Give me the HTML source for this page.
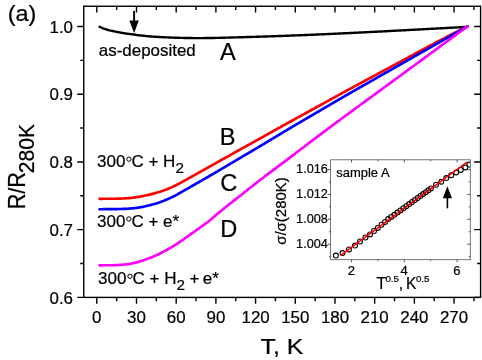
<!DOCTYPE html>
<html><head><meta charset="utf-8"><title>chart</title>
<style>html,body{margin:0;padding:0;background:#fff;}body{width:482px;height:360px;overflow:hidden;font-family:"Liberation Sans",sans-serif;}svg{display:block;will-change:transform;}text{stroke:#000;stroke-width:0.22px;}</style>
</head><body>
<svg width="482" height="360" viewBox="0 0 482 360" font-family="'Liberation Sans', sans-serif" fill="#000">
<rect width="482" height="360" fill="#fff"/>
<path d="M99.60,26.80 L100.60,27.28 L101.60,27.73 L102.60,28.15 L103.60,28.54 L104.60,28.88 L105.60,29.21 L106.60,29.51 L107.60,29.80 L108.60,30.07 L109.60,30.33 L110.60,30.57 L111.60,30.80 L112.60,31.01 L113.60,31.23 L114.60,31.43 L115.60,31.62 L116.60,31.82 L117.60,32.02 L118.60,32.23 L119.60,32.43 L120.60,32.62 L121.60,32.80 L122.60,32.97 L123.60,33.13 L124.60,33.29 L125.60,33.45 L126.60,33.59 L127.60,33.74 L128.60,33.88 L129.60,34.02 L130.60,34.15 L131.60,34.28 L132.60,34.42 L133.60,34.55 L134.60,34.68 L135.60,34.81 L136.60,34.94 L137.60,35.07 L138.60,35.20 L139.60,35.32 L140.60,35.44 L141.60,35.56 L142.60,35.67 L143.60,35.78 L144.60,35.89 L145.60,35.99 L146.60,36.10 L147.60,36.19 L148.60,36.28 L149.60,36.37 L150.60,36.45 L151.60,36.52 L152.60,36.59 L153.60,36.66 L154.60,36.73 L155.60,36.79 L156.60,36.86 L157.60,36.92 L158.60,36.97 L159.60,37.03 L160.60,37.09 L161.60,37.14 L162.60,37.19 L163.60,37.24 L164.60,37.28 L165.60,37.33 L166.60,37.37 L167.60,37.41 L168.60,37.46 L169.60,37.50 L170.60,37.54 L171.60,37.58 L172.60,37.62 L173.60,37.66 L174.60,37.70 L175.60,37.73 L176.60,37.76 L177.60,37.79 L178.60,37.82 L179.60,37.85 L180.60,37.87 L181.60,37.89 L182.60,37.91 L183.60,37.93 L184.60,37.95 L185.60,37.97 L186.60,37.98 L187.60,38.00 L188.60,38.02 L189.60,38.03 L190.60,38.05 L191.60,38.06 L192.60,38.07 L193.60,38.08 L194.60,38.09 L195.60,38.09 L196.60,38.10 L197.60,38.10 L198.60,38.10 L199.60,38.10 L200.60,38.09 L201.60,38.09 L202.60,38.08 L203.60,38.08 L204.60,38.07 L205.60,38.06 L206.60,38.05 L207.60,38.03 L208.60,38.02 L209.60,38.01 L210.60,38.00 L211.60,37.98 L212.60,37.97 L213.60,37.96 L214.60,37.94 L215.60,37.92 L216.60,37.91 L217.60,37.89 L218.60,37.86 L219.60,37.84 L220.60,37.81 L221.60,37.79 L222.60,37.76 L223.60,37.73 L224.60,37.70 L225.60,37.67 L226.60,37.64 L227.60,37.61 L228.60,37.58 L229.60,37.55 L230.60,37.52 L231.60,37.50 L232.60,37.47 L233.60,37.44 L234.60,37.41 L235.60,37.39 L236.60,37.36 L237.60,37.33 L238.60,37.30 L239.60,37.27 L240.60,37.24 L241.60,37.21 L242.60,37.19 L243.60,37.16 L244.60,37.13 L245.60,37.10 L246.60,37.07 L247.60,37.04 L248.60,37.01 L249.60,36.98 L250.60,36.95 L251.60,36.92 L252.60,36.89 L253.60,36.86 L254.60,36.83 L255.60,36.80 L256.60,36.77 L257.60,36.74 L258.60,36.71 L259.60,36.68 L260.60,36.65 L261.60,36.62 L262.60,36.58 L263.60,36.55 L264.60,36.52 L265.60,36.49 L266.60,36.46 L267.60,36.43 L268.60,36.39 L269.60,36.36 L270.60,36.33 L271.60,36.30 L272.60,36.26 L273.60,36.23 L274.60,36.20 L275.60,36.16 L276.60,36.13 L277.60,36.09 L278.60,36.06 L279.60,36.02 L280.60,35.98 L281.60,35.95 L282.60,35.91 L283.60,35.88 L284.60,35.84 L285.60,35.80 L286.60,35.76 L287.60,35.73 L288.60,35.69 L289.60,35.65 L290.60,35.61 L291.60,35.57 L292.60,35.53 L293.60,35.50 L294.60,35.46 L295.60,35.42 L296.60,35.38 L297.60,35.34 L298.60,35.30 L299.60,35.26 L300.60,35.22 L301.60,35.18 L302.60,35.14 L303.60,35.10 L304.60,35.05 L305.60,35.01 L306.60,34.97 L307.60,34.93 L308.60,34.89 L309.60,34.85 L310.60,34.80 L311.60,34.76 L312.60,34.72 L313.60,34.68 L314.60,34.63 L315.60,34.59 L316.60,34.55 L317.60,34.50 L318.60,34.46 L319.60,34.42 L320.60,34.37 L321.60,34.33 L322.60,34.29 L323.60,34.24 L324.60,34.20 L325.60,34.15 L326.60,34.11 L327.60,34.06 L328.60,34.02 L329.60,33.97 L330.60,33.93 L331.60,33.88 L332.60,33.84 L333.60,33.79 L334.60,33.74 L335.60,33.70 L336.60,33.65 L337.60,33.60 L338.60,33.56 L339.60,33.51 L340.60,33.46 L341.60,33.42 L342.60,33.37 L343.60,33.32 L344.60,33.27 L345.60,33.23 L346.60,33.18 L347.60,33.13 L348.60,33.08 L349.60,33.04 L350.60,32.99 L351.60,32.94 L352.60,32.89 L353.60,32.84 L354.60,32.79 L355.60,32.74 L356.60,32.70 L357.60,32.65 L358.60,32.60 L359.60,32.55 L360.60,32.50 L361.60,32.45 L362.60,32.40 L363.60,32.35 L364.60,32.30 L365.60,32.25 L366.60,32.20 L367.60,32.16 L368.60,32.11 L369.60,32.06 L370.60,32.01 L371.60,31.95 L372.60,31.90 L373.60,31.85 L374.60,31.80 L375.60,31.75 L376.60,31.70 L377.60,31.65 L378.60,31.60 L379.60,31.54 L380.60,31.49 L381.60,31.44 L382.60,31.39 L383.60,31.33 L384.60,31.28 L385.60,31.23 L386.60,31.18 L387.60,31.13 L388.60,31.07 L389.60,31.02 L390.60,30.97 L391.60,30.92 L392.60,30.86 L393.60,30.81 L394.60,30.76 L395.60,30.71 L396.60,30.65 L397.60,30.60 L398.60,30.55 L399.60,30.50 L400.60,30.44 L401.60,30.39 L402.60,30.34 L403.60,30.29 L404.60,30.23 L405.60,30.18 L406.60,30.13 L407.60,30.07 L408.60,30.02 L409.60,29.97 L410.60,29.92 L411.60,29.86 L412.60,29.81 L413.60,29.76 L414.60,29.70 L415.60,29.65 L416.60,29.60 L417.60,29.54 L418.60,29.49 L419.60,29.44 L420.60,29.38 L421.60,29.33 L422.60,29.28 L423.60,29.22 L424.60,29.17 L425.60,29.12 L426.60,29.06 L427.60,29.01 L428.60,28.95 L429.60,28.90 L430.60,28.85 L431.60,28.79 L432.60,28.74 L433.60,28.69 L434.60,28.63 L435.60,28.58 L436.60,28.52 L437.60,28.47 L438.60,28.42 L439.60,28.36 L440.60,28.31 L441.60,28.25 L442.60,28.20 L443.60,28.15 L444.60,28.09 L445.60,28.04 L446.60,27.98 L447.60,27.93 L448.60,27.88 L449.60,27.82 L450.60,27.77 L451.60,27.71 L452.60,27.66 L453.60,27.60 L454.60,27.55 L455.60,27.49 L456.60,27.44 L457.60,27.38 L458.60,27.33 L459.60,27.27 L460.60,27.22 L461.60,27.16 L462.60,27.11 L463.60,27.05 L464.60,27.00 L465.60,26.94 L466.60,26.89 L467.30,26.85" fill="none" stroke="#000" stroke-width="2.4" stroke-linecap="round" stroke-linejoin="round"/>
<path d="M99.50,198.80 L100.50,198.80 L101.50,198.80 L102.50,198.80 L103.50,198.79 L104.50,198.79 L105.50,198.79 L106.50,198.78 L107.50,198.78 L108.50,198.77 L109.50,198.77 L110.50,198.76 L111.50,198.75 L112.50,198.75 L113.50,198.74 L114.50,198.72 L115.50,198.70 L116.50,198.69 L117.50,198.66 L118.50,198.64 L119.50,198.61 L120.50,198.59 L121.50,198.55 L122.50,198.51 L123.50,198.47 L124.50,198.42 L125.50,198.36 L126.50,198.30 L127.50,198.23 L128.50,198.16 L129.50,198.08 L130.50,197.98 L131.50,197.87 L132.50,197.74 L133.50,197.61 L134.50,197.47 L135.50,197.33 L136.50,197.18 L137.50,197.03 L138.50,196.88 L139.50,196.71 L140.50,196.53 L141.50,196.35 L142.50,196.16 L143.50,195.96 L144.50,195.75 L145.50,195.54 L146.50,195.32 L147.50,195.10 L148.50,194.87 L149.50,194.64 L150.50,194.40 L151.50,194.15 L152.50,193.90 L153.50,193.64 L154.50,193.37 L155.50,193.09 L156.50,192.80 L157.50,192.51 L158.50,192.21 L159.50,191.90 L160.50,191.58 L161.50,191.26 L162.50,190.92 L163.50,190.58 L164.50,190.22 L165.50,189.86 L166.50,189.48 L167.50,189.10 L168.50,188.70 L169.50,188.28 L170.50,187.84 L171.50,187.38 L172.50,186.91 L173.50,186.43 L174.50,185.94 L175.50,185.45 L176.50,184.95 L177.50,184.43 L178.50,183.90 L179.50,183.37 L180.50,182.83 L181.50,182.30 L182.50,181.76 L183.50,181.22 L184.50,180.67 L185.50,180.12 L186.50,179.57 L187.50,179.01 L188.50,178.44 L189.50,177.88 L190.50,177.32 L191.50,176.76 L192.50,176.20 L193.50,175.64 L194.50,175.08 L195.50,174.52 L196.50,173.96 L197.50,173.40 L198.50,172.84 L199.50,172.28 L200.50,171.72 L201.50,171.16 L202.50,170.60 L203.50,170.04 L204.50,169.48 L205.50,168.92 L206.50,168.36 L207.50,167.80 L208.50,167.24 L209.50,166.68 L210.50,166.12 L211.50,165.56 L212.50,165.00 L213.50,164.44 L214.50,163.88 L215.50,163.32 L216.50,162.76 L217.50,162.20 L218.50,161.64 L219.50,161.08 L220.50,160.52 L221.50,159.96 L222.50,159.40 L223.50,158.84 L224.50,158.28 L225.50,157.72 L226.50,157.16 L227.50,156.60 L228.50,156.04 L229.50,155.48 L230.50,154.92 L231.50,154.36 L232.50,153.80 L233.50,153.24 L234.50,152.68 L235.50,152.12 L236.50,151.56 L237.50,151.00 L238.50,150.44 L239.50,149.88 L240.50,149.32 L241.50,148.76 L242.50,148.21 L243.50,147.65 L244.50,147.10 L245.50,146.54 L246.50,145.99 L247.50,145.43 L248.50,144.88 L249.50,144.33 L250.50,143.77 L251.50,143.22 L252.50,142.67 L253.50,142.11 L254.50,141.56 L255.50,141.00 L256.50,140.45 L257.50,139.89 L258.50,139.34 L259.50,138.78 L260.50,138.22 L261.50,137.66 L262.50,137.10 L263.50,136.54 L264.50,135.98 L265.50,135.42 L266.50,134.86 L267.50,134.30 L268.50,133.74 L269.50,133.18 L270.50,132.62 L271.50,132.06 L272.50,131.51 L273.50,130.95 L274.50,130.39 L275.50,129.84 L276.50,129.28 L277.50,128.73 L278.50,128.17 L279.50,127.61 L280.50,127.06 L281.50,126.51 L282.50,125.95 L283.50,125.40 L284.50,124.84 L285.50,124.29 L286.50,123.74 L287.50,123.18 L288.50,122.63 L289.50,122.08 L290.50,121.52 L291.50,120.97 L292.50,120.42 L293.50,119.87 L294.50,119.32 L295.50,118.77 L296.50,118.21 L297.50,117.66 L298.50,117.11 L299.50,116.56 L300.50,116.01 L301.50,115.46 L302.50,114.91 L303.50,114.36 L304.50,113.81 L305.50,113.27 L306.50,112.72 L307.50,112.17 L308.50,111.62 L309.50,111.07 L310.50,110.52 L311.50,109.97 L312.50,109.42 L313.50,108.87 L314.50,108.32 L315.50,107.77 L316.50,107.22 L317.50,106.67 L318.50,106.12 L319.50,105.57 L320.50,105.02 L321.50,104.47 L322.50,103.92 L323.50,103.37 L324.50,102.82 L325.50,102.27 L326.50,101.72 L327.50,101.17 L328.50,100.62 L329.50,100.07 L330.50,99.51 L331.50,98.96 L332.50,98.41 L333.50,97.86 L334.50,97.31 L335.50,96.76 L336.50,96.21 L337.50,95.67 L338.50,95.12 L339.50,94.57 L340.50,94.03 L341.50,93.48 L342.50,92.94 L343.50,92.39 L344.50,91.85 L345.50,91.30 L346.50,90.76 L347.50,90.22 L348.50,89.67 L349.50,89.13 L350.50,88.59 L351.50,88.04 L352.50,87.50 L353.50,86.96 L354.50,86.42 L355.50,85.88 L356.50,85.34 L357.50,84.79 L358.50,84.25 L359.50,83.71 L360.50,83.17 L361.50,82.63 L362.50,82.09 L363.50,81.55 L364.50,81.01 L365.50,80.47 L366.50,79.93 L367.50,79.39 L368.50,78.86 L369.50,78.32 L370.50,77.78 L371.50,77.24 L372.50,76.70 L373.50,76.16 L374.50,75.62 L375.50,75.08 L376.50,74.55 L377.50,74.01 L378.50,73.47 L379.50,72.93 L380.50,72.39 L381.50,71.86 L382.50,71.32 L383.50,70.78 L384.50,70.24 L385.50,69.70 L386.50,69.17 L387.50,68.63 L388.50,68.09 L389.50,67.55 L390.50,67.01 L391.50,66.48 L392.50,65.94 L393.50,65.40 L394.50,64.86 L395.50,64.32 L396.50,63.78 L397.50,63.25 L398.50,62.71 L399.50,62.17 L400.50,61.63 L401.50,61.09 L402.50,60.55 L403.50,60.01 L404.50,59.47 L405.50,58.93 L406.50,58.39 L407.50,57.85 L408.50,57.30 L409.50,56.76 L410.50,56.22 L411.50,55.68 L412.50,55.14 L413.50,54.59 L414.50,54.05 L415.50,53.51 L416.50,52.97 L417.50,52.43 L418.50,51.88 L419.50,51.34 L420.50,50.80 L421.50,50.26 L422.50,49.72 L423.50,49.18 L424.50,48.64 L425.50,48.10 L426.50,47.57 L427.50,47.03 L428.50,46.49 L429.50,45.96 L430.50,45.42 L431.50,44.89 L432.50,44.36 L433.50,43.83 L434.50,43.30 L435.50,42.77 L436.50,42.24 L437.50,41.71 L438.50,41.19 L439.50,40.66 L440.50,40.14 L441.50,39.62 L442.50,39.10 L443.50,38.58 L444.50,38.06 L445.50,37.54 L446.50,37.02 L447.50,36.50 L448.50,35.99 L449.50,35.47 L450.50,34.96 L451.50,34.45 L452.50,33.93 L453.50,33.42 L454.50,32.91 L455.50,32.40 L456.50,31.90 L457.50,31.39 L458.50,30.88 L459.50,30.37 L460.50,29.87 L461.50,29.36 L462.50,28.86 L463.50,28.36 L464.50,27.85 L465.50,27.35 L466.50,26.85 L467.50,26.35 L467.60,26.30" fill="none" stroke="#f00" stroke-width="2.65" stroke-linecap="round" stroke-linejoin="round"/>
<path d="M99.50,209.20 L100.50,209.20 L101.50,209.20 L102.50,209.20 L103.50,209.19 L104.50,209.19 L105.50,209.19 L106.50,209.18 L107.50,209.18 L108.50,209.17 L109.50,209.17 L110.50,209.16 L111.50,209.15 L112.50,209.15 L113.50,209.14 L114.50,209.12 L115.50,209.10 L116.50,209.08 L117.50,209.06 L118.50,209.04 L119.50,209.01 L120.50,208.99 L121.50,208.96 L122.50,208.93 L123.50,208.90 L124.50,208.86 L125.50,208.82 L126.50,208.78 L127.50,208.73 L128.50,208.67 L129.50,208.60 L130.50,208.52 L131.50,208.43 L132.50,208.33 L133.50,208.23 L134.50,208.11 L135.50,207.99 L136.50,207.86 L137.50,207.73 L138.50,207.59 L139.50,207.43 L140.50,207.26 L141.50,207.08 L142.50,206.88 L143.50,206.68 L144.50,206.46 L145.50,206.25 L146.50,206.02 L147.50,205.80 L148.50,205.57 L149.50,205.33 L150.50,205.09 L151.50,204.83 L152.50,204.57 L153.50,204.30 L154.50,204.01 L155.50,203.72 L156.50,203.42 L157.50,203.10 L158.50,202.77 L159.50,202.42 L160.50,202.06 L161.50,201.68 L162.50,201.29 L163.50,200.89 L164.50,200.48 L165.50,200.06 L166.50,199.64 L167.50,199.21 L168.50,198.78 L169.50,198.34 L170.50,197.89 L171.50,197.42 L172.50,196.95 L173.50,196.46 L174.50,195.96 L175.50,195.44 L176.50,194.90 L177.50,194.33 L178.50,193.76 L179.50,193.19 L180.50,192.61 L181.50,192.03 L182.50,191.45 L183.50,190.87 L184.50,190.29 L185.50,189.72 L186.50,189.16 L187.50,188.60 L188.50,188.04 L189.50,187.48 L190.50,186.91 L191.50,186.34 L192.50,185.75 L193.50,185.17 L194.50,184.59 L195.50,184.01 L196.50,183.44 L197.50,182.87 L198.50,182.30 L199.50,181.73 L200.50,181.17 L201.50,180.60 L202.50,180.03 L203.50,179.46 L204.50,178.89 L205.50,178.31 L206.50,177.73 L207.50,177.15 L208.50,176.57 L209.50,175.99 L210.50,175.41 L211.50,174.83 L212.50,174.25 L213.50,173.67 L214.50,173.09 L215.50,172.51 L216.50,171.92 L217.50,171.34 L218.50,170.75 L219.50,170.16 L220.50,169.57 L221.50,168.98 L222.50,168.39 L223.50,167.80 L224.50,167.21 L225.50,166.62 L226.50,166.03 L227.50,165.44 L228.50,164.85 L229.50,164.25 L230.50,163.66 L231.50,163.07 L232.50,162.48 L233.50,161.89 L234.50,161.30 L235.50,160.70 L236.50,160.11 L237.50,159.52 L238.50,158.93 L239.50,158.34 L240.50,157.75 L241.50,157.16 L242.50,156.57 L243.50,155.98 L244.50,155.39 L245.50,154.80 L246.50,154.21 L247.50,153.62 L248.50,153.03 L249.50,152.43 L250.50,151.84 L251.50,151.25 L252.50,150.66 L253.50,150.07 L254.50,149.47 L255.50,148.88 L256.50,148.28 L257.50,147.69 L258.50,147.09 L259.50,146.50 L260.50,145.90 L261.50,145.30 L262.50,144.70 L263.50,144.11 L264.50,143.50 L265.50,142.90 L266.50,142.30 L267.50,141.70 L268.50,141.10 L269.50,140.50 L270.50,139.90 L271.50,139.30 L272.50,138.70 L273.50,138.10 L274.50,137.50 L275.50,136.89 L276.50,136.29 L277.50,135.69 L278.50,135.09 L279.50,134.49 L280.50,133.88 L281.50,133.28 L282.50,132.68 L283.50,132.08 L284.50,131.48 L285.50,130.88 L286.50,130.28 L287.50,129.69 L288.50,129.09 L289.50,128.50 L290.50,127.90 L291.50,127.31 L292.50,126.72 L293.50,126.13 L294.50,125.54 L295.50,124.95 L296.50,124.36 L297.50,123.77 L298.50,123.18 L299.50,122.59 L300.50,122.01 L301.50,121.42 L302.50,120.83 L303.50,120.25 L304.50,119.66 L305.50,119.08 L306.50,118.49 L307.50,117.91 L308.50,117.32 L309.50,116.74 L310.50,116.15 L311.50,115.57 L312.50,114.99 L313.50,114.40 L314.50,113.82 L315.50,113.23 L316.50,112.65 L317.50,112.06 L318.50,111.48 L319.50,110.89 L320.50,110.31 L321.50,109.72 L322.50,109.13 L323.50,108.55 L324.50,107.96 L325.50,107.37 L326.50,106.79 L327.50,106.20 L328.50,105.61 L329.50,105.03 L330.50,104.44 L331.50,103.85 L332.50,103.27 L333.50,102.68 L334.50,102.10 L335.50,101.51 L336.50,100.93 L337.50,100.35 L338.50,99.77 L339.50,99.19 L340.50,98.61 L341.50,98.03 L342.50,97.46 L343.50,96.88 L344.50,96.30 L345.50,95.73 L346.50,95.15 L347.50,94.57 L348.50,94.00 L349.50,93.43 L350.50,92.85 L351.50,92.28 L352.50,91.71 L353.50,91.13 L354.50,90.56 L355.50,89.99 L356.50,89.42 L357.50,88.85 L358.50,88.27 L359.50,87.70 L360.50,87.13 L361.50,86.56 L362.50,85.99 L363.50,85.42 L364.50,84.86 L365.50,84.29 L366.50,83.72 L367.50,83.15 L368.50,82.58 L369.50,82.01 L370.50,81.44 L371.50,80.88 L372.50,80.31 L373.50,79.74 L374.50,79.17 L375.50,78.61 L376.50,78.04 L377.50,77.47 L378.50,76.90 L379.50,76.34 L380.50,75.77 L381.50,75.20 L382.50,74.64 L383.50,74.07 L384.50,73.50 L385.50,72.93 L386.50,72.37 L387.50,71.80 L388.50,71.23 L389.50,70.67 L390.50,70.10 L391.50,69.53 L392.50,68.96 L393.50,68.39 L394.50,67.83 L395.50,67.26 L396.50,66.69 L397.50,66.12 L398.50,65.55 L399.50,64.98 L400.50,64.42 L401.50,63.85 L402.50,63.28 L403.50,62.71 L404.50,62.14 L405.50,61.57 L406.50,61.00 L407.50,60.43 L408.50,59.86 L409.50,59.30 L410.50,58.73 L411.50,58.16 L412.50,57.59 L413.50,57.02 L414.50,56.45 L415.50,55.88 L416.50,55.31 L417.50,54.75 L418.50,54.18 L419.50,53.61 L420.50,53.04 L421.50,52.47 L422.50,51.90 L423.50,51.34 L424.50,50.77 L425.50,50.20 L426.50,49.63 L427.50,49.06 L428.50,48.49 L429.50,47.93 L430.50,47.36 L431.50,46.79 L432.50,46.22 L433.50,45.65 L434.50,45.09 L435.50,44.52 L436.50,43.95 L437.50,43.38 L438.50,42.81 L439.50,42.25 L440.50,41.68 L441.50,41.11 L442.50,40.54 L443.50,39.97 L444.50,39.41 L445.50,38.84 L446.50,38.27 L447.50,37.70 L448.50,37.14 L449.50,36.57 L450.50,36.00 L451.50,35.43 L452.50,34.87 L453.50,34.30 L454.50,33.73 L455.50,33.16 L456.50,32.60 L457.50,32.03 L458.50,31.46 L459.50,30.89 L460.50,30.33 L461.50,29.76 L462.50,29.19 L463.50,28.63 L464.50,28.06 L465.50,27.49 L466.50,26.92 L467.50,26.36 L467.60,26.30" fill="none" stroke="#00f" stroke-width="2.65" stroke-linecap="round" stroke-linejoin="round"/>
<path d="M99.50,265.30 L100.50,265.30 L101.50,265.30 L102.50,265.30 L103.50,265.29 L104.50,265.29 L105.50,265.28 L106.50,265.28 L107.50,265.27 L108.50,265.26 L109.50,265.25 L110.50,265.25 L111.50,265.23 L112.50,265.22 L113.50,265.20 L114.50,265.18 L115.50,265.15 L116.50,265.12 L117.50,265.08 L118.50,265.01 L119.50,264.94 L120.50,264.86 L121.50,264.79 L122.50,264.72 L123.50,264.64 L124.50,264.55 L125.50,264.46 L126.50,264.36 L127.50,264.24 L128.50,264.08 L129.50,263.91 L130.50,263.71 L131.50,263.51 L132.50,263.30 L133.50,263.09 L134.50,262.87 L135.50,262.64 L136.50,262.39 L137.50,262.13 L138.50,261.86 L139.50,261.57 L140.50,261.27 L141.50,260.95 L142.50,260.62 L143.50,260.28 L144.50,259.94 L145.50,259.59 L146.50,259.23 L147.50,258.86 L148.50,258.48 L149.50,258.09 L150.50,257.70 L151.50,257.30 L152.50,256.90 L153.50,256.49 L154.50,256.07 L155.50,255.65 L156.50,255.21 L157.50,254.75 L158.50,254.28 L159.50,253.79 L160.50,253.28 L161.50,252.76 L162.50,252.23 L163.50,251.70 L164.50,251.16 L165.50,250.62 L166.50,250.07 L167.50,249.51 L168.50,248.94 L169.50,248.37 L170.50,247.80 L171.50,247.21 L172.50,246.62 L173.50,246.02 L174.50,245.41 L175.50,244.78 L176.50,244.14 L177.50,243.48 L178.50,242.82 L179.50,242.14 L180.50,241.46 L181.50,240.77 L182.50,240.07 L183.50,239.36 L184.50,238.65 L185.50,237.93 L186.50,237.21 L187.50,236.49 L188.50,235.77 L189.50,235.06 L190.50,234.34 L191.50,233.63 L192.50,232.92 L193.50,232.21 L194.50,231.49 L195.50,230.78 L196.50,230.07 L197.50,229.36 L198.50,228.64 L199.50,227.93 L200.50,227.22 L201.50,226.51 L202.50,225.80 L203.50,225.09 L204.50,224.40 L205.50,223.70 L206.50,222.99 L207.50,222.26 L208.50,221.50 L209.50,220.69 L210.50,219.83 L211.50,218.93 L212.50,218.02 L213.50,217.12 L214.50,216.23 L215.50,215.38 L216.50,214.55 L217.50,213.73 L218.50,212.92 L219.50,212.11 L220.50,211.30 L221.50,210.50 L222.50,209.69 L223.50,208.89 L224.50,208.09 L225.50,207.30 L226.50,206.50 L227.50,205.70 L228.50,204.90 L229.50,204.09 L230.50,203.29 L231.50,202.48 L232.50,201.69 L233.50,200.90 L234.50,200.12 L235.50,199.35 L236.50,198.58 L237.50,197.82 L238.50,197.06 L239.50,196.29 L240.50,195.51 L241.50,194.72 L242.50,193.92 L243.50,193.12 L244.50,192.31 L245.50,191.50 L246.50,190.70 L247.50,189.89 L248.50,189.09 L249.50,188.29 L250.50,187.51 L251.50,186.72 L252.50,185.94 L253.50,185.16 L254.50,184.38 L255.50,183.60 L256.50,182.83 L257.50,182.06 L258.50,181.28 L259.50,180.51 L260.50,179.74 L261.50,178.98 L262.50,178.21 L263.50,177.45 L264.50,176.68 L265.50,175.92 L266.50,175.16 L267.50,174.40 L268.50,173.64 L269.50,172.88 L270.50,172.13 L271.50,171.38 L272.50,170.62 L273.50,169.87 L274.50,169.12 L275.50,168.37 L276.50,167.62 L277.50,166.88 L278.50,166.13 L279.50,165.38 L280.50,164.63 L281.50,163.88 L282.50,163.14 L283.50,162.39 L284.50,161.64 L285.50,160.89 L286.50,160.14 L287.50,159.39 L288.50,158.63 L289.50,157.88 L290.50,157.12 L291.50,156.36 L292.50,155.61 L293.50,154.85 L294.50,154.09 L295.50,153.33 L296.50,152.56 L297.50,151.80 L298.50,151.04 L299.50,150.28 L300.50,149.51 L301.50,148.75 L302.50,147.98 L303.50,147.22 L304.50,146.46 L305.50,145.69 L306.50,144.93 L307.50,144.17 L308.50,143.40 L309.50,142.64 L310.50,141.88 L311.50,141.12 L312.50,140.36 L313.50,139.60 L314.50,138.84 L315.50,138.09 L316.50,137.33 L317.50,136.58 L318.50,135.83 L319.50,135.07 L320.50,134.33 L321.50,133.58 L322.50,132.83 L323.50,132.08 L324.50,131.34 L325.50,130.59 L326.50,129.84 L327.50,129.10 L328.50,128.36 L329.50,127.61 L330.50,126.87 L331.50,126.13 L332.50,125.39 L333.50,124.64 L334.50,123.90 L335.50,123.16 L336.50,122.42 L337.50,121.68 L338.50,120.95 L339.50,120.21 L340.50,119.47 L341.50,118.73 L342.50,117.99 L343.50,117.26 L344.50,116.52 L345.50,115.79 L346.50,115.05 L347.50,114.32 L348.50,113.58 L349.50,112.85 L350.50,112.11 L351.50,111.38 L352.50,110.64 L353.50,109.91 L354.50,109.18 L355.50,108.45 L356.50,107.71 L357.50,106.98 L358.50,106.25 L359.50,105.52 L360.50,104.79 L361.50,104.05 L362.50,103.32 L363.50,102.59 L364.50,101.86 L365.50,101.13 L366.50,100.40 L367.50,99.67 L368.50,98.94 L369.50,98.21 L370.50,97.48 L371.50,96.75 L372.50,96.02 L373.50,95.29 L374.50,94.56 L375.50,93.83 L376.50,93.10 L377.50,92.37 L378.50,91.64 L379.50,90.90 L380.50,90.17 L381.50,89.44 L382.50,88.71 L383.50,87.98 L384.50,87.25 L385.50,86.52 L386.50,85.79 L387.50,85.06 L388.50,84.33 L389.50,83.60 L390.50,82.86 L391.50,82.13 L392.50,81.40 L393.50,80.67 L394.50,79.93 L395.50,79.20 L396.50,78.47 L397.50,77.73 L398.50,77.00 L399.50,76.27 L400.50,75.53 L401.50,74.80 L402.50,74.06 L403.50,73.33 L404.50,72.60 L405.50,71.86 L406.50,71.13 L407.50,70.39 L408.50,69.66 L409.50,68.92 L410.50,68.19 L411.50,67.46 L412.50,66.72 L413.50,65.99 L414.50,65.25 L415.50,64.52 L416.50,63.79 L417.50,63.05 L418.50,62.32 L419.50,61.58 L420.50,60.85 L421.50,60.12 L422.50,59.38 L423.50,58.65 L424.50,57.91 L425.50,57.18 L426.50,56.45 L427.50,55.71 L428.50,54.98 L429.50,54.25 L430.50,53.51 L431.50,52.78 L432.50,52.04 L433.50,51.31 L434.50,50.58 L435.50,49.84 L436.50,49.11 L437.50,48.38 L438.50,47.64 L439.50,46.91 L440.50,46.17 L441.50,45.44 L442.50,44.71 L443.50,43.97 L444.50,43.24 L445.50,42.51 L446.50,41.77 L447.50,41.04 L448.50,40.31 L449.50,39.57 L450.50,38.84 L451.50,38.11 L452.50,37.37 L453.50,36.64 L454.50,35.91 L455.50,35.17 L456.50,34.44 L457.50,33.71 L458.50,32.97 L459.50,32.24 L460.50,31.51 L461.50,30.77 L462.50,30.04 L463.50,29.31 L464.50,28.57 L465.50,27.84 L466.50,27.11 L467.50,26.37 L467.60,26.30" fill="none" stroke="#f0f" stroke-width="2.65" stroke-linecap="round" stroke-linejoin="round"/>
<rect x="83.75" y="6.25" width="396.85" height="291.15" fill="none" stroke="#000" stroke-width="1.4"/>
<path d="M96.80,297.4 v6.3 M96.80,6.25 v6.3 M116.65,297.4 v3.8 M116.65,6.25 v3.8 M136.50,297.4 v6.3 M136.50,6.25 v6.3 M156.34,297.4 v3.8 M156.34,6.25 v3.8 M176.19,297.4 v6.3 M176.19,6.25 v6.3 M196.04,297.4 v3.8 M196.04,6.25 v3.8 M215.89,297.4 v6.3 M215.89,6.25 v6.3 M235.74,297.4 v3.8 M235.74,6.25 v3.8 M255.58,297.4 v6.3 M255.58,6.25 v6.3 M275.43,297.4 v3.8 M275.43,6.25 v3.8 M295.28,297.4 v6.3 M295.28,6.25 v6.3 M315.13,297.4 v3.8 M315.13,6.25 v3.8 M334.98,297.4 v6.3 M334.98,6.25 v6.3 M354.82,297.4 v3.8 M354.82,6.25 v3.8 M374.67,297.4 v6.3 M374.67,6.25 v6.3 M394.52,297.4 v3.8 M394.52,6.25 v3.8 M414.37,297.4 v6.3 M414.37,6.25 v6.3 M434.22,297.4 v3.8 M434.22,6.25 v3.8 M454.06,297.4 v6.3 M454.06,6.25 v6.3 M473.91,297.4 v3.8 M473.91,6.25 v3.8 M83.75,297.40 h-6.5 M480.6,297.40 h-6.5 M83.75,263.53 h-3.5 M480.6,263.53 h-3.5 M83.75,229.67 h-6.5 M480.6,229.67 h-6.5 M83.75,195.80 h-3.5 M480.6,195.80 h-3.5 M83.75,161.94 h-6.5 M480.6,161.94 h-6.5 M83.75,128.07 h-3.5 M480.6,128.07 h-3.5 M83.75,94.21 h-6.5 M480.6,94.21 h-6.5 M83.75,60.34 h-3.5 M480.6,60.34 h-3.5 M83.75,26.48 h-6.5 M480.6,26.48 h-6.5" fill="none" stroke="#000" stroke-width="1.4"/>
<text x="96.80" y="322.6" font-size="16.9" text-anchor="middle">0</text>
<text x="136.50" y="322.6" font-size="16.9" text-anchor="middle">30</text>
<text x="176.19" y="322.6" font-size="16.9" text-anchor="middle">60</text>
<text x="215.89" y="322.6" font-size="16.9" text-anchor="middle">90</text>
<text x="255.58" y="322.6" font-size="16.9" text-anchor="middle">120</text>
<text x="295.28" y="322.6" font-size="16.9" text-anchor="middle">150</text>
<text x="334.98" y="322.6" font-size="16.9" text-anchor="middle">180</text>
<text x="374.67" y="322.6" font-size="16.9" text-anchor="middle">210</text>
<text x="414.37" y="322.6" font-size="16.9" text-anchor="middle">240</text>
<text x="454.06" y="322.6" font-size="16.9" text-anchor="middle">270</text>
<text x="73" y="303.60" font-size="16.9" text-anchor="end">0.6</text>
<text x="73" y="235.87" font-size="16.9" text-anchor="end">0.7</text>
<text x="73" y="168.14" font-size="16.9" text-anchor="end">0.8</text>
<text x="73" y="100.41" font-size="16.9" text-anchor="end">0.9</text>
<text x="73" y="32.68" font-size="16.9" text-anchor="end">1.0</text>
<text x="260.5" y="353.5" font-size="22.6" textLength="43" lengthAdjust="spacingAndGlyphs">T, K</text>
<text transform="translate(25,209.3) rotate(-90)" font-size="24" textLength="37.3" lengthAdjust="spacingAndGlyphs">R/R</text>
<text transform="translate(34.3,173.2) rotate(-90)" font-size="21.4" textLength="49.3" lengthAdjust="spacingAndGlyphs">280K</text>
<text transform="translate(7.7,21.2) scale(1.04,1)" font-size="22.6">(a)</text>
<text x="98.8" y="56.1" font-size="16.2" textLength="97" lengthAdjust="spacingAndGlyphs">as-deposited</text>
<text x="220" y="59.8" font-size="23.6">A</text>
<text x="219.8" y="144.5" font-size="23.6">B</text>
<text x="220.2" y="190.8" font-size="23.6">C</text>
<text x="220.3" y="237" font-size="23.6">D</text>
<text transform="translate(97.00,167) scale(1.008,1)" font-size="16.9">300</text><circle cx="128.90" cy="159.15" r="2.15" fill="none" stroke="#000" stroke-width="1.0"/><text transform="translate(131.40,167) scale(1.008,1)" font-size="16.9">C + H<tspan dy="5.6" font-size="15.2">2</tspan></text>
<text transform="translate(97.00,226.8) scale(1.008,1)" font-size="16.9">300</text><circle cx="128.90" cy="218.95" r="2.15" fill="none" stroke="#000" stroke-width="1.0"/><text transform="translate(131.40,226.8) scale(1.008,1)" font-size="16.9">C + e*</text>
<text transform="translate(98.10,284.1) scale(1.008,1)" font-size="16.9">300</text><circle cx="130.00" cy="276.25" r="2.15" fill="none" stroke="#000" stroke-width="1.0"/><text transform="translate(132.50,284.1) scale(1.008,1)" font-size="16.9">C + H<tspan dy="5.6" font-size="15.2">2</tspan></text><text transform="translate(189.40,284.1) scale(1.008,1)" font-size="16.9">+</text><text transform="translate(202.70,284.1) scale(1.008,1)" font-size="16.9">e*</text>
<path d="M134.1,10.9 V22" stroke="#000" stroke-width="1.9" fill="none"/>
<path d="M129.4,20.4 L138.8,20.4 L134.1,33.0 Z" fill="#000"/>
<rect x="330.6" y="159.8" width="139.7" height="99.89999999999998" fill="#fff" stroke="none"/>
<clipPath id="ic"><rect x="330.6" y="159.8" width="139.7" height="99.89999999999998"/></clipPath>
<g clip-path="url(#ic)" fill="none" stroke="#000" stroke-width="1.1">
<circle cx="335.90" cy="255.60" r="2.45"/>
<circle cx="342.50" cy="253.10" r="2.45"/>
<circle cx="349.00" cy="249.40" r="2.45"/>
<circle cx="355.00" cy="245.60" r="2.45"/>
<circle cx="360.00" cy="241.50" r="2.45"/>
<circle cx="365.40" cy="237.50" r="2.45"/>
<circle cx="370.00" cy="234.40" r="2.45"/>
<circle cx="374.00" cy="231.00" r="2.45"/>
<circle cx="377.75" cy="227.90" r="2.45"/>
<circle cx="381.50" cy="224.75" r="2.45"/>
<circle cx="385.00" cy="221.90" r="2.45"/>
<circle cx="388.10" cy="219.10" r="2.45"/>
<circle cx="391.20" cy="217.01" r="2.45"/>
<circle cx="394.31" cy="214.78" r="2.45"/>
<circle cx="397.37" cy="212.58" r="2.45"/>
<circle cx="400.39" cy="210.40" r="2.45"/>
<circle cx="403.36" cy="208.26" r="2.45"/>
<circle cx="406.30" cy="206.15" r="2.45"/>
<circle cx="409.19" cy="204.07" r="2.45"/>
<circle cx="412.05" cy="202.01" r="2.45"/>
<circle cx="414.86" cy="199.99" r="2.45"/>
<circle cx="417.64" cy="197.99" r="2.45"/>
<circle cx="420.37" cy="196.02" r="2.45"/>
<circle cx="423.07" cy="194.08" r="2.45"/>
<circle cx="425.73" cy="192.17" r="2.45"/>
<circle cx="428.36" cy="190.28" r="2.45"/>
<circle cx="430.94" cy="188.42" r="2.45"/>
<circle cx="436.00" cy="184.75" r="2.45"/>
<circle cx="441.30" cy="181.70" r="2.45"/>
<circle cx="446.30" cy="178.10" r="2.45"/>
<circle cx="451.20" cy="175.20" r="2.45"/>
<circle cx="456.20" cy="172.40" r="2.45"/>
<circle cx="460.75" cy="169.90" r="2.45"/>
<circle cx="465.30" cy="167.40" r="2.45"/>
<circle cx="469.30" cy="164.60" r="2.45"/>
</g>
<path d="M340.6,255.3 L467,162.1" stroke="#f00" stroke-width="1.5" fill="none"/>
<rect x="330.6" y="159.8" width="139.7" height="99.89999999999998" fill="none" stroke="#555" stroke-width="0.8"/>
<path d="M351.50,259.7 v2.6 M351.50,159.8 v2.6 M377.90,259.7 v1.5 M377.90,159.8 v1.5 M404.30,259.7 v2.6 M404.30,159.8 v2.6 M430.70,259.7 v1.5 M430.70,159.8 v1.5 M457.10,259.7 v2.6 M457.10,159.8 v2.6 M330.6,256.64 h-1.6 M470.3,256.64 h-1.6 M330.6,244.20 h-3.0 M470.3,244.20 h-3.0 M330.6,231.76 h-1.6 M470.3,231.76 h-1.6 M330.6,219.31 h-3.0 M470.3,219.31 h-3.0 M330.6,206.87 h-1.6 M470.3,206.87 h-1.6 M330.6,194.42 h-3.0 M470.3,194.42 h-3.0 M330.6,181.98 h-1.6 M470.3,181.98 h-1.6 M330.6,169.54 h-3.0 M470.3,169.54 h-3.0" fill="none" stroke="#333" stroke-width="0.8"/>
<text x="351.30" y="274.6" font-size="13" text-anchor="middle">2</text>
<text x="404.10" y="274.6" font-size="13" text-anchor="middle">4</text>
<text x="456.90" y="274.6" font-size="13" text-anchor="middle">6</text>
<text x="327.9" y="248.10" font-size="13.7" text-anchor="end" textLength="31.8" lengthAdjust="spacingAndGlyphs">1.004</text>
<text x="327.9" y="223.21" font-size="13.7" text-anchor="end" textLength="31.8" lengthAdjust="spacingAndGlyphs">1.008</text>
<text x="327.9" y="198.32" font-size="13.7" text-anchor="end" textLength="31.8" lengthAdjust="spacingAndGlyphs">1.012</text>
<text x="327.9" y="173.44" font-size="13.7" text-anchor="end" textLength="31.8" lengthAdjust="spacingAndGlyphs">1.016</text>
<text x="336.3" y="176.8" font-size="13.4" textLength="53.3" lengthAdjust="spacingAndGlyphs">sample A</text>
<text x="376.5" y="288.5" font-size="15.6">T</text>
<text x="385.4" y="282.1" font-size="9.8">0.5</text>
<text x="398.7" y="288.5" font-size="15.6">,</text>
<text x="406.0" y="288.5" font-size="15.6">K</text>
<text x="415.9" y="282.1" font-size="9.8">0.5</text>
<text transform="translate(286.4,244.8) rotate(-90)" font-size="14.3" textLength="67.6" lengthAdjust="spacingAndGlyphs">σ/σ(280K)</text>
<path d="M447.4,208.3 V197" stroke="#000" stroke-width="1.6" fill="none"/>
<path d="M442.8,198.3 L452,198.3 L447.4,186.3 Z" fill="#000"/>
</svg>
</body></html>
